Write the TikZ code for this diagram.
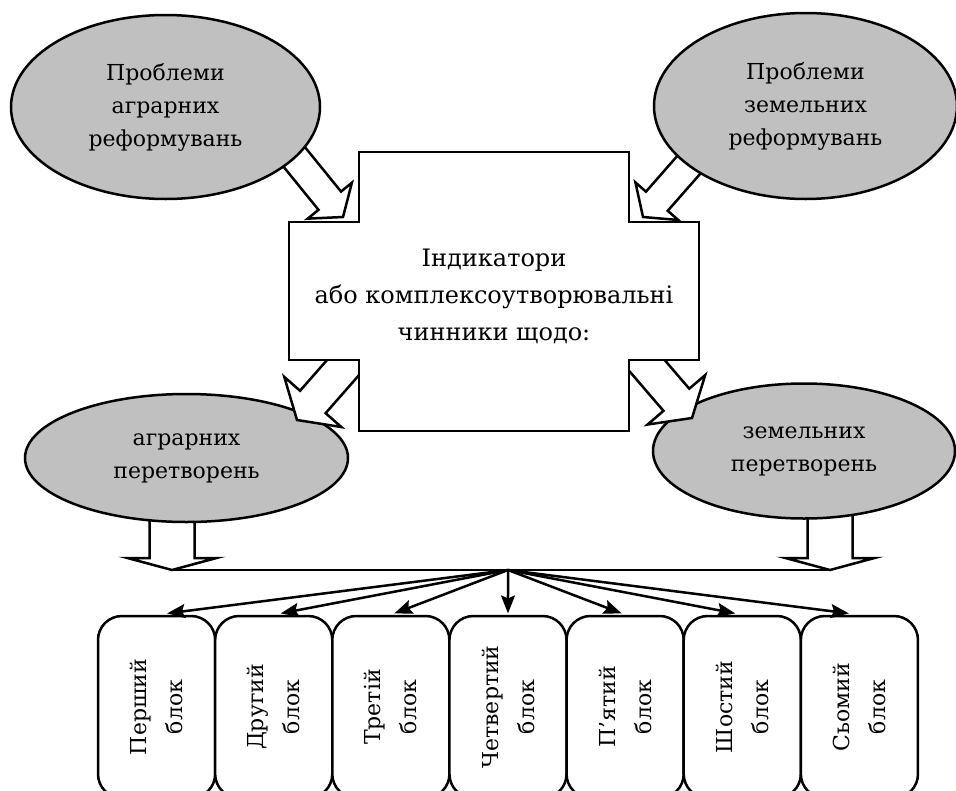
\documentclass[tikz,border=0pt]{standalone}
\usepackage{fontspec}
\setmainfont{DejaVu Serif}
\usetikzlibrary{shapes.geometric,arrows.meta,calc}
\definecolor{probgray}{RGB}{192,192,192}
\tikzset{
  prob/.style={ellipse, draw, line width=2.5pt, fill=probgray, align=center, inner sep=0pt},
  fatarr/.style={draw, line width=2.5pt, fill=white, line join=miter},
  blk/.style={draw, line width=2.5pt, fill=white, rounded corners=24pt, rotate=90,
    minimum width=182pt, minimum height=117.14pt, align=center, inner sep=0pt,
    font=\fontsize{22}{36}\selectfont},
  fanarr/.style={line width=2.5pt, -{Stealth[length=18pt,width=14pt,inset=3pt]}}
}
% tail, tip, half shaft, half head, head length
\newcommand{\fatarrow}[5]{%
  \coordinate (fa-h) at ($(#2)!#5!(#1)$);
  \draw[fatarr] ($(#1)!#3!90:(#2)$) -- ($(fa-h)!#3!-90:(#1)$) -- ($(fa-h)!#4!-90:(#1)$) -- (#2)
    -- ($(fa-h)!#4!90:(#1)$) -- ($(fa-h)!#3!90:(#1)$) -- ($(#1)!#3!-90:(#2)$) -- cycle;}
\begin{document}
\begin{tikzpicture}[x=1pt, y=-1pt, font=\fontsize{22}{33}\selectfont]
\useasboundingbox (0,0) rectangle (956,790);
\clip (0,0) rectangle (956,790);
\coordinate (pat) at (261,116);  \coordinate (pah) at (343,217);
\coordinate (pzt) at (729,119);  \coordinate (pzh) at (643,217);
\coordinate (tat) at (383,322);  \coordinate (tah) at (297,420);
\coordinate (tzt) at (607,319);  \coordinate (tzh) at (692,418);
\coordinate (lat) at (172,480);  \coordinate (la) at (172,570);
\coordinate (rat) at (830,480);  \coordinate (ra) at (830,570);
\coordinate (fan) at (508,570);
% these tails go under the ellipses
\fatarrow{pat}{pah}{14.5pt}{28.5pt}{21pt}
\fatarrow{pzt}{pzh}{14.5pt}{28.5pt}{21pt}
\fatarrow{lat}{la}{22.5pt}{44.5pt}{12pt}
\fatarrow{rat}{ra}{22.5pt}{44.5pt}{12pt}
\node[prob, minimum width=309pt, minimum height=184pt] (pa) at (165.5,107) {Проблеми\\аграрних\\реформувань};
\node[prob, minimum width=303pt, minimum height=186pt] (pz) at (805.5,106) {Проблеми\\земельних\\реформувань};
\node[prob, minimum width=323pt, minimum height=128pt] (ta) at (186.5,458) {аграрних\\перетворень};
\node[prob, minimum width=302pt, minimum height=135pt] (tz) at (804,451) {земельних\\перетворень};
% these heads lie over the lower ellipses
\fatarrow{tat}{tah}{17pt}{38pt}{24pt}
\fatarrow{tzt}{tzh}{17pt}{38pt}{24pt}
\draw[line width=2.5pt, fill=white] (359,152) -- (629,152) -- (629,222) -- (699,222) -- (699,360) -- (629,360)
  -- (629,431) -- (359,431) -- (359,360) -- (289,360) -- (289,222) -- (359,222) -- cycle; % cross
\node[align=center, font=\fontsize{24}{37}\selectfont] (ind) at (494,296) {Індикатори\\або комплексоутворювальні\\чинники щодо:};
\draw[line width=2.5pt] (la) -- (ra);
\foreach \i/\nm in {1/Перший,2/Другий,3/Третій,4/Четвертий,5/П’ятий,6/Шостий,7/Сьомий}{
  \node[blk] (b\i) at ({98+117.14*(\i-0.5)},707) {\nm\\блок};
  \draw[fanarr] (fan) -- ($(b\i.east)!.03!(fan)$);
}
\end{tikzpicture}
\end{document}
